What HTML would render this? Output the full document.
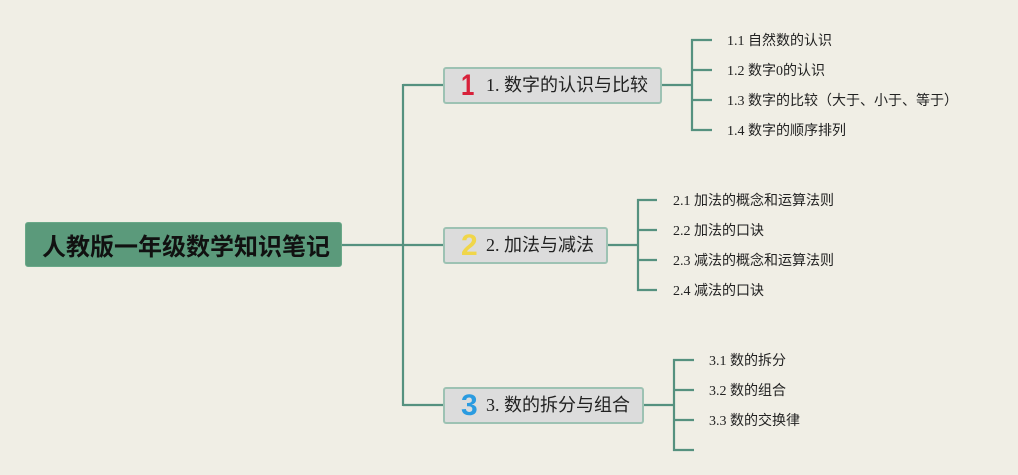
<!DOCTYPE html>
<html><head><meta charset="utf-8">
<style>
html,body{margin:0;padding:0;}
body{width:1018px;height:475px;background:#f0eee5;overflow:hidden;position:relative;font-family:"Liberation Sans","Noto Sans CJK SC",sans-serif;}
svg{position:absolute;left:0;top:0;}
.root{position:absolute;left:25px;top:222px;width:317px;height:45px;background:#5b9a7b;border-radius:3px;box-sizing:border-box;border:1px solid #6aa888;font-weight:bold;font-size:24px;letter-spacing:0;color:#111;line-height:43px;padding-left:16px;white-space:nowrap;font-family:"Noto Sans CJK SC",sans-serif;}
.br{position:absolute;box-sizing:border-box;background:#dcdcdc;border:2px solid #9dc2b3;border-radius:3px;height:37px;font-size:18px;color:#222;line-height:33px;white-space:nowrap;}
.num{position:absolute;top:2px;font-weight:bold;font-size:30px;line-height:30px;font-family:"Liberation Sans",sans-serif;}
.br .t{position:absolute;left:41px;top:0;font-family:"Liberation Serif","Noto Sans CJK SC",sans-serif;}
.c{position:absolute;font-size:14px;color:#222;white-space:nowrap;line-height:16px;font-family:"Liberation Serif","Noto Sans CJK SC",sans-serif;}
</style></head><body>
<svg width="1018" height="475" viewBox="0 0 1018 475">
<g stroke="#55917f" stroke-width="2.2" fill="none">
<line x1="342" y1="245" x2="403" y2="245"/>
<line x1="403" y1="84" x2="403" y2="406"/>
<line x1="403" y1="85" x2="443" y2="85"/>
<line x1="403" y1="245" x2="443" y2="245"/>
<line x1="403" y1="405" x2="443" y2="405"/>
<line x1="662" y1="85" x2="692" y2="85"/>
<line x1="692" y1="39" x2="692" y2="131"/>
<line x1="691" y1="40" x2="712" y2="40"/>
<line x1="691" y1="70" x2="712" y2="70"/>
<line x1="691" y1="100" x2="712" y2="100"/>
<line x1="691" y1="130" x2="712" y2="130"/>
<line x1="608" y1="245" x2="638" y2="245"/>
<line x1="638" y1="199" x2="638" y2="291"/>
<line x1="637" y1="200" x2="657" y2="200"/>
<line x1="637" y1="230" x2="657" y2="230"/>
<line x1="637" y1="260" x2="657" y2="260"/>
<line x1="637" y1="290" x2="657" y2="290"/>
<line x1="644" y1="405" x2="674" y2="405"/>
<line x1="674" y1="359" x2="674" y2="451"/>
<line x1="673" y1="360" x2="694" y2="360"/>
<line x1="673" y1="390" x2="694" y2="390"/>
<line x1="673" y1="420" x2="694" y2="420"/>
<line x1="673" y1="450" x2="694" y2="450"/>
</g>
</svg>

<div class="root">人教版一年级数学知识笔记</div>

<div class="br" style="left:443px;top:67px;width:219px;">
<span class="num" style="left:16px;color:#d8213a;display:inline-block;transform:scaleX(0.8);transform-origin:left;">1</span>
<span class="t">1. 数字的认识与比较</span>
</div>
<div class="br" style="left:443px;top:227px;width:165px;">
<span class="num" style="left:16px;color:#f0d64a;">2</span>
<span class="t">2. 加法与减法</span>
</div>
<div class="br" style="left:443px;top:387px;width:201px;">
<span class="num" style="left:16px;color:#2a9be0;">3</span>
<span class="t">3. 数的拆分与组合</span>
</div>

<div class="c" style="left:727px;top:34px;">1.1 自然数的认识</div>
<div class="c" style="left:727px;top:64px;">1.2 数字0的认识</div>
<div class="c" style="left:727px;top:94px;">1.3 数字的比较（大于、小于、等于）</div>
<div class="c" style="left:727px;top:124px;">1.4 数字的顺序排列</div>

<div class="c" style="left:673px;top:194px;">2.1 加法的概念和运算法则</div>
<div class="c" style="left:673px;top:224px;">2.2 加法的口诀</div>
<div class="c" style="left:673px;top:254px;">2.3 减法的概念和运算法则</div>
<div class="c" style="left:673px;top:284px;">2.4 减法的口诀</div>

<div class="c" style="left:709px;top:354px;">3.1 数的拆分</div>
<div class="c" style="left:709px;top:384px;">3.2 数的组合</div>
<div class="c" style="left:709px;top:414px;">3.3 数的交换律</div>
</body></html>
